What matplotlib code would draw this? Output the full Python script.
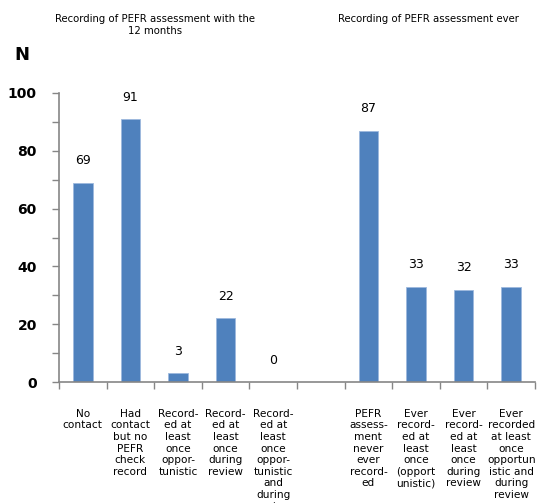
#!/usr/bin/env python3

import matplotlib.pyplot as plt
import numpy as np

BAR_COLOR = "#4F81BD"
AXIS_COLOR = "#868686"

# 12-month recording (left group), blank gap, then ever-recorded (right group)
categories = [
    "No\ncontact",
    "Had\ncontact\nbut no\nPEFR\ncheck\nrecord",
    "Record-\ned at\nleast\nonce\noppor-\ntunistic",
    "Record-\ned at\nleast\nonce\nduring\nreview",
    "Record-\ned at\nleast\nonce\noppor-\ntunistic\nand\nduring\nreview",
    "",
    "PEFR\nassess-\nment\nnever\never\nrecord-\ned",
    "Ever\nrecord-\ned at\nleast\nonce\n(opport\nunistic)",
    "Ever\nrecord-\ned at\nleast\nonce\nduring\nreview",
    "Ever\nrecorded\nat least\nonce\nopportun\nistic and\nduring\nreview",
]
counts = [69, 91, 3, 22, 0, None, 87, 33, 32, 33]

group_titles = [
    "Recording of PEFR assessment with the\n12 months",
    "Recording of PEFR assessment ever",
]


def main():
    fig = plt.figure(figsize=(5.53, 5.03), dpi=100)
    ax = fig.add_axes([59 / 553, 1 - 382 / 503, 476 / 553, 289 / 503])

    x = np.arange(len(categories))
    for xi, n in zip(x, counts):
        if n is None:
            continue
        ax.bar(xi, n, width=0.41, color=BAR_COLOR, edgecolor="#9DB9DD", linewidth=0.6)
        ax.annotate(
            str(n),
            (xi, n),
            xytext=(0, 11),
            textcoords="offset points",
            ha="center",
            va="bottom",
            fontsize=9,
        )

    ax.set_xlim(-0.5, len(categories) - 0.5)
    ax.set_ylim(0, 100)

    ax.set_yticks(np.arange(0, 101, 20))
    ax.set_yticks(np.arange(0, 101, 10), minor=True)
    ax.tick_params(
        axis="y",
        which="both",
        direction="out",
        length=5,
        width=1,
        color=AXIS_COLOR,
        labelsize=10,
        pad=11,
    )
    for lbl in ax.get_yticklabels():
        lbl.set_fontweight("bold")

    # category boundaries carry the x ticks, labels sit under the bars
    ax.set_xticks(np.arange(len(categories) + 1) - 0.5)
    ax.set_xticklabels([])
    ax.tick_params(axis="x", direction="out", length=5, width=1, color=AXIS_COLOR)
    for xi, text in zip(x, categories):
        ax.text(
            xi,
            -0.093,
            text,
            transform=ax.get_xaxis_transform(),
            ha="center",
            va="top",
            fontsize=7.6,
            linespacing=1.2,
            clip_on=False,
        )

    for side in ("top", "right"):
        ax.spines[side].set_visible(False)
    for side in ("left", "bottom"):
        ax.spines[side].set_color(AXIS_COLOR)
        ax.spines[side].set_linewidth(1.2)

    fig.text(22 / 553, 1 - 55 / 503, "N", fontsize=13, fontweight="bold", ha="center", va="center")
    fig.text(155 / 553, 1 - 14 / 503, group_titles[0], fontsize=7.3, ha="center", va="top", linespacing=1.2)
    fig.text(428 / 553, 1 - 14 / 503, group_titles[1], fontsize=7.3, ha="center", va="top")

    fig.savefig("out.png", dpi=100)
    plt.close(fig)


if __name__ == "__main__":
    main()
